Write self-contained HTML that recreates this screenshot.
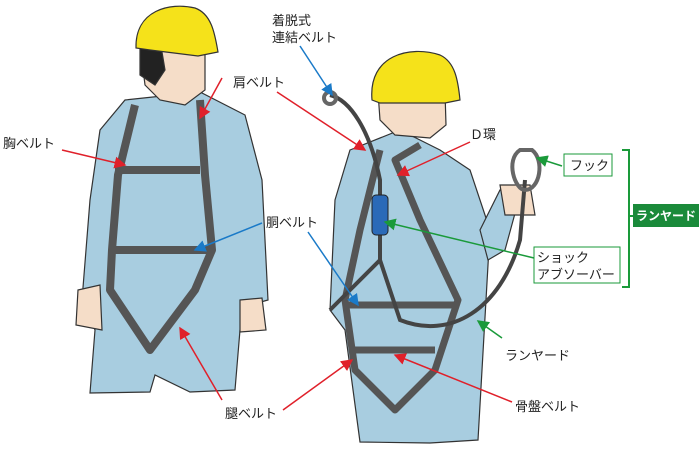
<!DOCTYPE html>
<html><head><meta charset="utf-8"><style>
html,body{margin:0;padding:0;background:#fff;}
svg{display:block}
text{font-family:"Liberation Sans","Noto Sans CJK JP",sans-serif;font-size:13px;fill:#222}
</style></head><body>
<svg width="699" height="451" viewBox="0 0 699 451" xmlns="http://www.w3.org/2000/svg">
<defs>
<marker id="ar" markerWidth="8" markerHeight="8" refX="7" refY="4" orient="auto"><path d="M0,0 L8,4 L0,8 Z" fill="#e0202a"/></marker>
<marker id="ab" markerWidth="8" markerHeight="8" refX="7" refY="4" orient="auto"><path d="M0,0 L8,4 L0,8 Z" fill="#1a7ac8"/></marker>
<marker id="ag" markerWidth="8" markerHeight="8" refX="7" refY="4" orient="auto"><path d="M0,0 L8,4 L0,8 Z" fill="#1a9a3a"/></marker>
</defs>
<g stroke="#333" stroke-width="1.2">
<!-- left figure -->
<path d="M125,100 L200,92 L245,115 L262,180 L268,300 L250,305 L240,330 L235,390 L190,392 L155,375 L150,392 L90,393 L95,330 L82,300 L90,200 L100,130 Z" fill="#a8cde0"/>
<path d="M140,45 L205,45 L205,90 L185,105 L160,100 L145,85 Z" fill="#f5ddc8"/>
<path d="M140,45 L160,40 L165,70 L155,85 L140,75 Z" fill="#222"/>
<path d="M136,48 C135,10 170,2 195,8 C212,14 215,35 218,52 L198,56 L150,50 Z" fill="#f5e21a"/>
<path d="M78,290 L100,285 L102,330 L76,325 Z" fill="#f5ddc8"/>
<path d="M240,300 L262,298 L266,330 L240,332 Z" fill="#f5ddc8"/>
<!-- right figure -->
<path d="M350,150 L400,130 L440,150 L470,170 L490,230 L486,300 L478,440 L430,443 L360,442 L345,330 L330,310 L335,200 Z" fill="#a8cde0"/>
<path d="M378,92 L445,92 L446,125 L430,138 L395,135 L380,120 Z" fill="#f5ddc8"/>
<path d="M372,100 C368,55 410,45 440,55 C455,62 458,80 460,100 L445,103 L380,103 Z" fill="#f5e21a"/>
<path d="M480,230 L500,190 L520,195 L505,250 L488,260 Z" fill="#a8cde0"/>
<path d="M500,185 L530,185 L535,215 L505,215 Z" fill="#f5ddc8"/>
</g>
<!-- harness left -->
<g stroke="#555" stroke-width="8" fill="none" stroke-linejoin="round">
<path d="M135,105 L118,175 L112,250 L110,290 L150,350 L195,290 L212,250 L205,175 L200,100"/>
<path d="M115,170 L200,170"/>
<path d="M112,250 L212,250"/>
</g>
<!-- harness right -->
<g stroke="#555" stroke-width="7" fill="none" stroke-linejoin="round">
<path d="M380,150 L360,230 L345,300 L355,370 L395,410 L435,370 L458,300 L420,220 L395,160 L420,145"/>
<path d="M345,305 L458,305"/>
<path d="M355,350 L435,350"/>
</g>
<path d="M330,95 C350,100 370,130 380,180 L380,260 L330,310 M380,260 L400,320 C450,340 500,310 520,240 L525,180" stroke="#444" stroke-width="4" fill="none"/>
<rect x="372" y="195" width="16" height="40" rx="4" fill="#2a6ab8" stroke="#222"/>
<path d="M520,150 C505,160 515,190 525,190 C540,190 545,160 532,150 Z" fill="none" stroke="#666" stroke-width="4"/>
<circle cx="330" cy="98" r="6" fill="none" stroke="#666" stroke-width="4"/>
<!-- labels -->
<text x="272" y="25">着脱式</text>
<text x="272" y="42">連結ベルト</text>
<line x1="300" y1="46" x2="332" y2="95" stroke="#1a7ac8" stroke-width="1.5" marker-end="url(#ab)"/>
<text x="233" y="87">肩ベルト</text>
<line x1="222" y1="78" x2="200" y2="118" stroke="#e0202a" stroke-width="1.5" marker-end="url(#ar)"/>
<line x1="277" y1="92" x2="365" y2="150" stroke="#e0202a" stroke-width="1.5" marker-end="url(#ar)"/>
<text x="3" y="148">胸ベルト</text>
<line x1="62" y1="150" x2="125" y2="165" stroke="#e0202a" stroke-width="1.5" marker-end="url(#ar)"/>
<text x="470" y="139">Ｄ環</text>
<line x1="470" y1="142" x2="398" y2="175" stroke="#e0202a" stroke-width="1.5" marker-end="url(#ar)"/>
<rect x="564" y="154" width="48" height="22" fill="#fff" stroke="#1a9a3a"/>
<text x="570" y="170">フック</text>
<line x1="562" y1="166" x2="537" y2="158" stroke="#1a9a3a" stroke-width="1.5" marker-end="url(#ag)"/>
<path d="M622,150 L629,150 L629,287 L622,287 M629,216 L634,216" stroke="#1a9a3a" stroke-width="2" fill="none"/>
<rect x="633" y="204" width="66" height="23" fill="#1a8a3a"/>
<text x="636" y="220" style="fill:#fff;font-weight:bold;font-size:12px">ランヤード</text>
<text x="266" y="227">胴ベルト</text>
<line x1="262" y1="223" x2="195" y2="250" stroke="#1a7ac8" stroke-width="1.5" marker-end="url(#ab)"/>
<line x1="308" y1="232" x2="358" y2="305" stroke="#1a7ac8" stroke-width="1.5" marker-end="url(#ab)"/>
<rect x="534" y="247" width="86" height="36" fill="#fff" stroke="#1a9a3a"/>
<text x="537" y="262">ショック</text>
<text x="537" y="279">アブソーバー</text>
<line x1="534" y1="258" x2="385" y2="222" stroke="#1a9a3a" stroke-width="1.5" marker-end="url(#ag)"/>
<text x="505" y="360">ランヤード</text>
<line x1="502" y1="338" x2="478" y2="321" stroke="#1a9a3a" stroke-width="1.5" marker-end="url(#ag)"/>
<text x="225" y="418">腿ベルト</text>
<line x1="222" y1="400" x2="180" y2="328" stroke="#e0202a" stroke-width="1.5" marker-end="url(#ar)"/>
<line x1="283" y1="410" x2="352" y2="360" stroke="#e0202a" stroke-width="1.5" marker-end="url(#ar)"/>
<text x="515" y="411">骨盤ベルト</text>
<line x1="512" y1="402" x2="395" y2="355" stroke="#e0202a" stroke-width="1.5" marker-end="url(#ar)"/>
</svg>
</body></html>
